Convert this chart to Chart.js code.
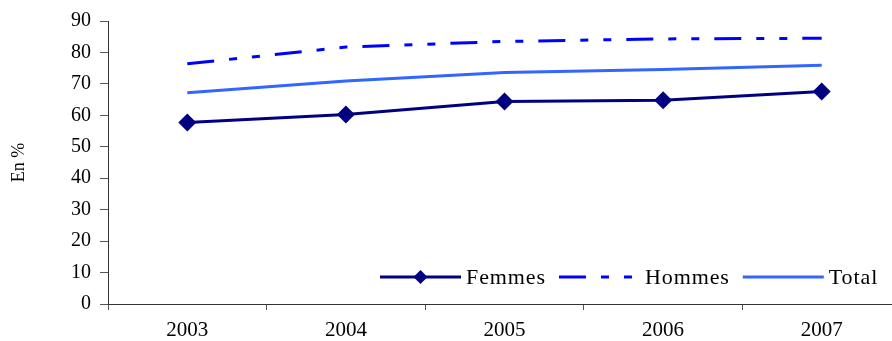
<!DOCTYPE html>
<html>
<head>
<meta charset="utf-8">
<script src="https://cdn.jsdelivr.net/npm/chart.js@4"></script>
<style>
  html, body { margin: 0; padding: 0; background: #fff; overflow: hidden; }
  #wrap { width: 910px; height: 341px; }
</style>
</head>
<body>
<div id="wrap"><canvas id="myChart" width="910" height="341"></canvas></div>
<script>
var years = ['2003', '2004', '2005', '2006', '2007'];
var femmes = [57.7, 60.3, 64.4, 64.8, 67.6];
var hommes = [76.4, 81.7, 83.5, 84.3, 84.5];
var total = [67.2, 70.9, 73.6, 74.6, 75.9];

var serif = 'Liberation Serif';
var hommesDash = [27, 15, 8, 15, 8, 15];

// legend drawn inside the plot, bottom right
var legendInside = {
  id: 'legendInside',
  afterDraw: function (chart) {
    var ctx = chart.ctx;
    var area = chart.chartArea;
    var y = area.bottom - 27;
    var x = area.left + 272;
    ctx.save();
    ctx.font = '22px ' + serif;
    ctx.letterSpacing = '0.9px';
    ctx.textBaseline = 'middle';
    chart.data.datasets.forEach(function (ds) {
      var len = 81;
      ctx.beginPath();
      ctx.setLineDash(ds.borderDash || []);
      ctx.lineWidth = ds.borderWidth;
      ctx.strokeStyle = ds.borderColor;
      ctx.moveTo(x, y);
      ctx.lineTo(x + len, y);
      ctx.stroke();
      ctx.setLineDash([]);
      if (ds.pointRadius > 0) {
        var r = 7;
        ctx.beginPath();
        ctx.moveTo(x + len / 2, y - r);
        ctx.lineTo(x + len / 2 + r, y);
        ctx.lineTo(x + len / 2, y + r);
        ctx.lineTo(x + len / 2 - r, y);
        ctx.closePath();
        ctx.fillStyle = ds.pointBackgroundColor;
        ctx.fill();
      }
      ctx.fillStyle = '#000';
      ctx.fillText(ds.label, x + len + 5, y + 1);
      x += len + 5 + ctx.measureText(ds.label).width + 13;
    });
    ctx.restore();
  }
};

var ctx = document.getElementById('myChart').getContext('2d');
var myChart = new Chart(ctx, {
  type: 'line',
  data: {
    labels: years,
    datasets: [{
      label: 'Femmes',
      data: femmes,
      borderColor: '#000080',
      backgroundColor: '#000080',
      borderWidth: 3,
      pointStyle: 'rectRot',
      pointRadius: 9,
      pointBackgroundColor: '#000080',
      pointBorderWidth: 0,
      tension: 0
    }, {
      label: 'Hommes',
      data: hommes,
      borderColor: '#0000ff',
      borderWidth: 3,
      borderDash: hommesDash,
      pointRadius: 0,
      tension: 0
    }, {
      label: 'Total',
      data: total,
      borderColor: '#3366ff',
      borderWidth: 3,
      pointRadius: 0,
      tension: 0
    }]
  },
  options: {
    responsive: false,
    animation: false,
    layout: { padding: { top: 19, right: 7, left: 0, bottom: 0 } },
    plugins: {
      legend: { display: false },
      tooltip: { enabled: false }
    },
    scales: {
      x: {
        offset: true,
        afterFit: function (scale) { scale.height = 37; },
        grid: {
          offset: true,
          drawOnChartArea: false,
          drawTicks: true,
          tickLength: 6,
          color: '#555'
        },
        border: { display: true, color: '#333', width: 1 },
        ticks: {
          color: '#000',
          padding: 8,
          font: { family: serif, size: 21 }
        }
      },
      y: {
        min: 0,
        max: 90,
        afterFit: function (scale) { scale.width = 108; },
        grid: {
          drawOnChartArea: false,
          drawTicks: true,
          tickLength: 8,
          color: '#555'
        },
        border: { display: true, color: '#333', width: 1 },
        ticks: {
          stepSize: 10,
          color: '#000',
          padding: 9,
          font: { family: serif, size: 20 }
        },
        title: {
          display: true,
          text: 'En %',
          color: '#000',
          padding: { top: 8, bottom: 0 },
          font: { family: serif, size: 18 }
        }
      }
    }
  },
  plugins: [legendInside]
});
</script>
</body>
</html>
